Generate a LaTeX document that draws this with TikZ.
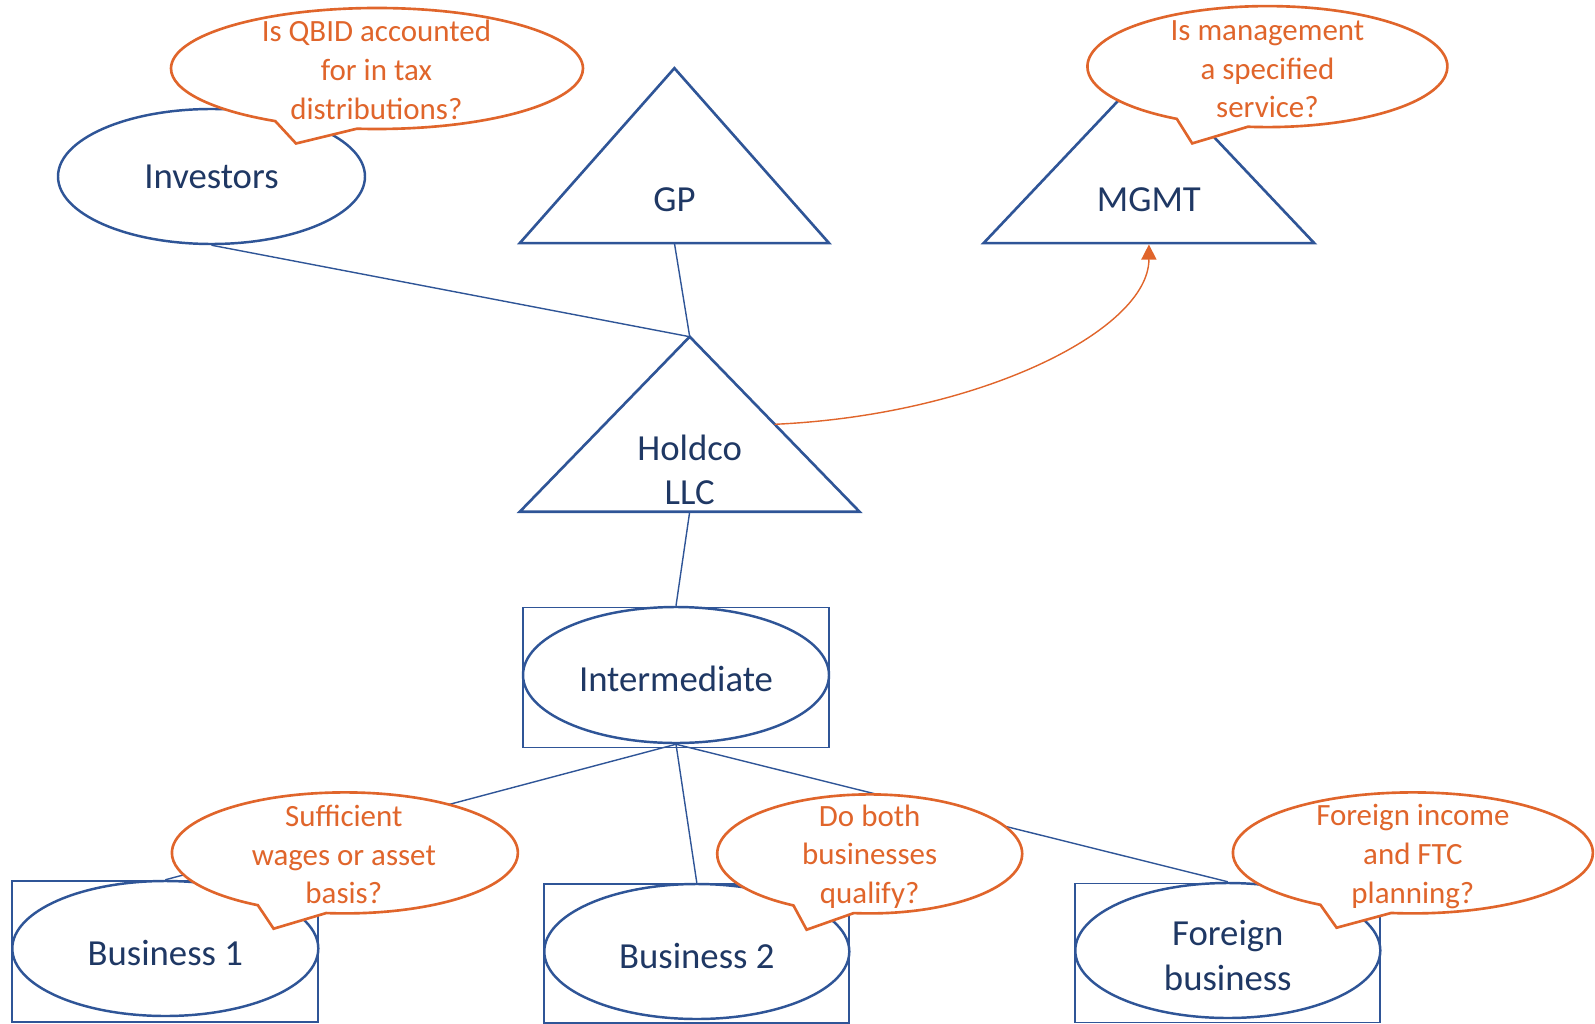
\documentclass[tikz,border=0pt]{standalone}
\usepackage{fontspec}
\setmainfont{Carlito}
\usetikzlibrary{shapes.geometric,shapes.callouts,arrows.meta}

\definecolor{navyline}{HTML}{2F5597}
\definecolor{navytext}{HTML}{1F3864}
\definecolor{askorange}{HTML}{E0652B}

\newcommand{\entityfont}{\fontsize{10.45}{12.7}\selectfont}
\newcommand{\askfont}{\fontsize{8.8}{11}\selectfont}

\begin{document}
\begin{tikzpicture}[x=0.1mm, y=-0.1mm,
    entity/.style={ellipse, draw=navyline, line width=0.7pt, fill=white, inner sep=0pt,
        text=navytext, font=\entityfont, align=center, minimum width=3.06cm, minimum height=1.35cm},
    frame/.style={rectangle, draw=navyline, line width=0.5pt, inner sep=0pt, minimum width=3.06cm},
    tri/.style={draw=navyline, line width=0.75pt, line join=miter},
    trilabel/.style={text=navytext, font=\entityfont, align=center, inner sep=0pt},
    link/.style={draw=navyline, line width=0.4pt},
    ask/.style={ellipse callout, draw=askorange, line width=0.75pt, fill=white,
        inner sep=0pt, callout pointer arc=24},
    asktext/.style={text=askorange, font=\askfont, align=center, inner sep=0pt}]
    \useasboundingbox (0,0) rectangle (1595,1024);

    % ownership triangles
    \draw[tri] (519.8,243.1) -- (674.4,68.2) -- (829,243.1) -- cycle;
    \node[trilabel] (gp) at (674.4,199.4) {GP};
    \coordinate (gp base) at (674.4,243.1);

    \draw[tri] (983.6,243.1) -- (1148.9,68.2) -- (1314.2,243.1) -- cycle;
    \node[trilabel] (mgmt) at (1148.9,199.4) {MGMT};
    \coordinate (mgmt base) at (1148.9,244.5);

    \draw[tri] (519.8,511.7) -- (689.7,336.7) -- (859.5,511.7) -- cycle;
    \node[trilabel] (holdco) at (689.7,470) {Holdco\\LLC};
    \coordinate (holdco top) at (689.7,336.7);
    \coordinate (holdco base) at (689.7,511.7);
    \coordinate (holdco side) at (774.7,424.3);

    % entities
    \node[entity, minimum width=3.07cm] (investors) at (211.5,176.5) {Investors};

    \node[frame, minimum height=1.40cm] (interbox) at (676,677.5) {};
    \node[entity, minimum height=1.36cm, text height=9.5pt] (inter) at (676,675) {Intermediate};

    \node[frame, minimum height=1.41cm] (bus1box) at (165.3,951.6) {};
    \node[entity, text height=9.9pt] (bus1) at (165.3,948.5) {Business 1};

    \node[frame, minimum width=3.05cm, minimum height=1.39cm] (bus2box) at (696.8,953.5) {};
    \node[entity, minimum width=3.05cm, text height=9.9pt] (bus2) at (696.8,951.5) {Business 2};

    \node[frame, minimum width=3.05cm, minimum height=1.39cm] (forbox) at (1227.8,953) {};
    \node[entity, minimum width=3.05cm, text height=22.6pt] (foreign) at (1227.8,950.5) {Foreign\\business};

    % connectors
    \draw[link] (investors.south) -- (holdco top);
    \draw[link] (gp base) -- (holdco top);
    \draw[link] (holdco base) -- (inter.north);
    \draw[link] (inter.south) -- (bus1.north);
    \draw[link] (inter.south) -- (bus2.north);
    \draw[link] (inter.south) -- (foreign.north);

    \draw[askorange, line width=0.4pt, -{Triangle[length=4.3pt, width=4.3pt]}]
        (holdco side) .. controls (980,415) and (1148.9,330) .. (mgmt base);

    % questions
    \node[ask, minimum width=4.12cm, minimum height=1.21cm,
        callout absolute pointer={(296,143.5)}] (qbid) at (377,68.5) {};
    \node[asktext] at (376.4,69.8) {Is QBID accounted\\for in tax\\distributions?};

    \node[ask, minimum width=3.60cm, minimum height=1.21cm,
        callout absolute pointer={(1192.2,143.4)}] (service) at (1267.4,66.6) {};
    \node[asktext] at (1267.4,69.2) {Is management\\a specified\\service?};

    \node[ask, minimum width=3.46cm, minimum height=1.21cm,
        callout absolute pointer={(273.6,928.7)}] (wages) at (344.9,852.9) {};
    \node[asktext] at (343.8,854.5) {Sufficient\\wages or asset\\basis?};

    \node[ask, minimum width=3.05cm, minimum height=1.19cm,
        callout absolute pointer={(806.6,929.7)}] (qualify) at (869.7,853.9) {};
    \node[asktext] at (869.7,856.5) {Do both\\businesses\\qualify?};

    \node[ask, minimum width=3.60cm, minimum height=1.21cm,
        callout absolute pointer={(1336.6,927.7)}] (ftc) at (1412.9,852.9) {};
    \node[asktext] at (1412.9,856.5) {Foreign income\\and FTC\\planning?};
\end{tikzpicture}
\end{document}
